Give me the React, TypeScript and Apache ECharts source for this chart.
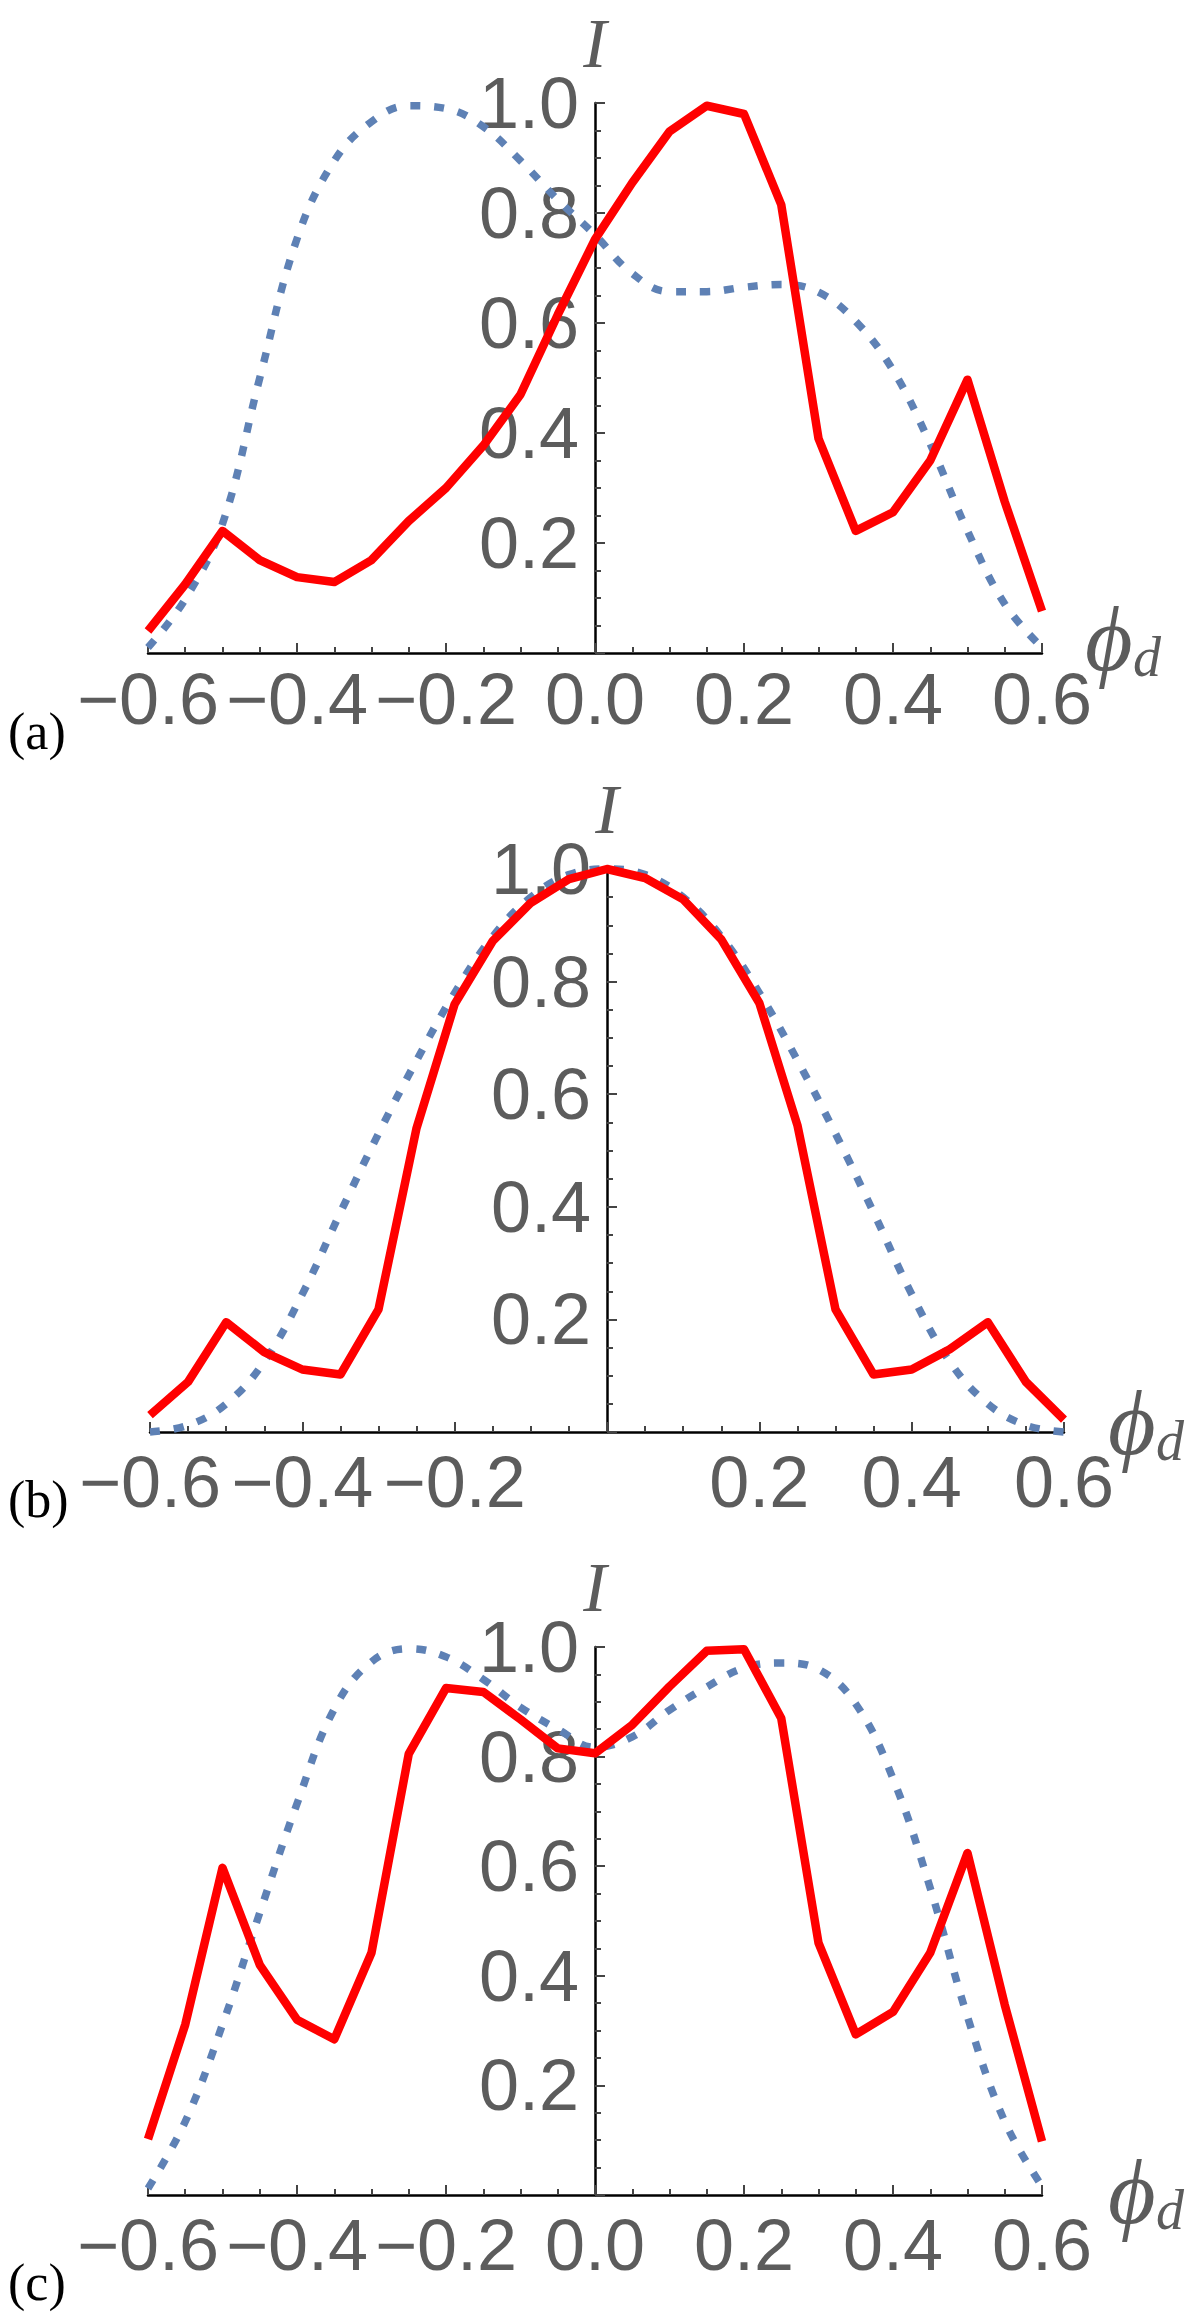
import React, { useEffect, useRef } from "react";
import * as echarts from "echarts";

// phase positions (x values) shared by all panels
const phi = [
  -0.6, -0.55, -0.5, -0.45, -0.4, -0.35, -0.3, -0.25, -0.2, -0.15, -0.1, -0.05, 0,
  0.05, 0.1, 0.15, 0.2, 0.25, 0.3, 0.35, 0.4, 0.45, 0.5, 0.55, 0.6,
];

// panel (a)
const redA = [
  0.04, 0.125, 0.222, 0.169, 0.138, 0.129, 0.169, 0.24, 0.3, 0.377, 0.47, 0.615, 0.752,
  0.855, 0.948, 0.995, 0.98, 0.815, 0.39, 0.222, 0.256, 0.35, 0.497, 0.275, 0.076,
];
const blueA = [
  0.01, 0.098, 0.235, 0.5, 0.753, 0.895, 0.966, 0.995, 0.99, 0.957, 0.895, 0.824, 0.76,
  0.69, 0.657, 0.657, 0.665, 0.67, 0.656, 0.603, 0.514, 0.38, 0.222, 0.089, 0.01,
];

// panel (b)
const redB = [
  0.03, 0.089, 0.195, 0.142, 0.111, 0.102, 0.218, 0.54, 0.76, 0.872, 0.94, 0.982, 1.0,
  0.984, 0.946, 0.875, 0.762, 0.545, 0.218, 0.102, 0.111, 0.147, 0.195, 0.089, 0.022,
];
const blueB = [
  0.0, 0.012, 0.05, 0.125, 0.245, 0.39, 0.53, 0.66, 0.78, 0.88, 0.95, 0.99, 1.0,
  0.99, 0.95, 0.88, 0.78, 0.66, 0.53, 0.39, 0.245, 0.125, 0.05, 0.012, 0.0,
];

// panel (c)
const redC = [
  0.102, 0.311, 0.597, 0.42, 0.32, 0.284, 0.442, 0.805, 0.925, 0.918, 0.868, 0.815, 0.806,
  0.858, 0.928, 0.993, 0.996, 0.87, 0.46, 0.293, 0.334, 0.442, 0.624, 0.347, 0.098,
];
const blueC = [
  0.012, 0.134, 0.311, 0.515, 0.714, 0.887, 0.973, 0.997, 0.982, 0.941, 0.89, 0.85, 0.817,
  0.836, 0.885, 0.927, 0.962, 0.971, 0.959, 0.896, 0.76, 0.56, 0.325, 0.134, 0.016,
];

const panelLabels = ["(a)", "(b)", "(c)"];
const yAxisTitle = "I";
const xMin = -0.6;
const xMax = 0.6;
const xTickStep = 0.2;
const yTickStep = 0.2;

const LABEL_GRAY = "#5c5c5c";
const RED = "#ff0000";
const BLUE = "#5e81b5";

const pairs = (ys: number[]) => phi.map((x, i) => [x, ys[i]]);

const fmtX = (skipZero: boolean) => (v: number) => {
  if (Math.abs(v) < 1e-9) return skipZero ? "" : "0.0";
  return v < 0 ? "\u2212" + Math.abs(v).toFixed(1) : v.toFixed(1);
};
const fmtY = (v: number) => (Math.abs(v) < 1e-9 ? "" : v.toFixed(1));

export default function App() {
  const ref = useRef<HTMLDivElement>(null);

  useEffect(() => {
    if (!ref.current) return;
    const chart = echarts.init(ref.current, null, { renderer: "svg" });

    const grids = [
      { left: 148, top: 103, width: 894, height: 550 },
      { left: 150, top: 869, width: 914, height: 563 },
      { left: 148, top: 1647, width: 894, height: 548 },
    ];
    const xMargins = [10, 14, 14];
    const labelTops = [705, 1473, 2256];
    // position of the phi_d title relative to the right end of each x axis
    const phiDx = [43, 44, 66];
    const phiDy = [-14, -9, -3];

    const tickLine = { color: "#444", width: 2 };

    const xAxes = grids.map((_, i) => ({
      type: "value",
      gridIndex: i,
      min: xMin,
      max: xMax,
      interval: xTickStep,
      axisLine: { show: true, onZero: true, lineStyle: { color: "#000", width: 2.5 } },
      axisTick: { show: true, inside: true, length: 10, lineStyle: tickLine },
      minorTick: { show: true, splitNumber: 4, length: 6, lineStyle: tickLine },
      splitLine: { show: false },
      minorSplitLine: { show: false },
      axisLabel: {
        formatter: fmtX(i === 1),
        fontSize: 72,
        fontFamily: "Liberation Sans",
        color: LABEL_GRAY,
        margin: xMargins[i],
      },
    }));

    // y axis drawn at x = 0: shift it from the grid's left edge to the zero of the x scale
    const yAxes = grids.map((g, i) => ({
      type: "value",
      gridIndex: i,
      min: 0,
      max: 1,
      interval: yTickStep,
      position: "left",
      offset: -g.width * ((0 - xMin) / (xMax - xMin)),
      axisLine: { show: true, onZero: false, lineStyle: { color: "#000", width: 2.5 } },
      axisTick: { show: true, inside: true, length: 10, lineStyle: tickLine },
      minorTick: { show: true, splitNumber: 4, length: 6, lineStyle: tickLine },
      splitLine: { show: false },
      minorSplitLine: { show: false },
      axisLabel: {
        formatter: fmtY,
        fontSize: 72,
        fontFamily: "Liberation Sans",
        color: LABEL_GRAY,
        margin: 16,
        padding: [0, 0, 10, 0],
      },
      name: yAxisTitle,
      nameLocation: "end",
      nameGap: 28,
      nameMoveOverlap: false,
      nameTextStyle: {
        fontFamily: "Liberation Serif",
        fontStyle: "italic",
        fontSize: 70,
        lineHeight: 64,
        color: LABEL_GRAY,
      },
    }));

    const blues = [blueA, blueB, blueC];
    const reds = [redA, redB, redC];
    const series: any[] = [];
    grids.forEach((_, i) => {
      series.push({
        type: "line",
        name: "blue" + i,
        xAxisIndex: i,
        yAxisIndex: i,
        data: pairs(blues[i]),
        showSymbol: false,
        smooth: 0.4,
        clip: false,
        z: 3,
        lineStyle: { color: BLUE, width: 7.5, type: [10, 14], cap: "butt" },
      });
      series.push({
        type: "line",
        name: "red" + i,
        xAxisIndex: i,
        yAxisIndex: i,
        data: pairs(reds[i]),
        showSymbol: false,
        smooth: false,
        clip: false,
        z: 4,
        lineStyle: { color: RED, width: 8.5, join: "round", cap: "butt" },
      });
    });

    const graphics: any[] = [];
    panelLabels.forEach((t, i) => {
      const g = grids[i];
      const ax = g.left + g.width;
      const ay = g.top + g.height;
      graphics.push({
        type: "text",
        x: 8,
        y: labelTops[i],
        style: {
          text: t,
          fontSize: 52,
          fontFamily: "Liberation Serif",
          fill: "#000",
          align: "left",
          verticalAlign: "top",
        },
      });
      graphics.push({
        type: "group",
        x: ax + phiDx[i],
        y: ay + phiDy[i],
        children: [
          {
            type: "text",
            x: 0,
            y: 0,
            style: {
              text: "\u03d5",
              fontSize: 92,
              fontFamily: "Liberation Serif",
              fontStyle: "italic",
              fill: LABEL_GRAY,
              align: "left",
              verticalAlign: "middle",
            },
          },
          {
            type: "text",
            x: 48,
            y: 18,
            style: {
              text: "d",
              fontSize: 56,
              fontFamily: "Liberation Serif",
              fontStyle: "italic",
              fill: LABEL_GRAY,
              align: "left",
              verticalAlign: "middle",
            },
          },
        ],
      });
    });

    chart.setOption({
      animation: false,
      backgroundColor: "#ffffff",
      grid: grids.map((g) => ({ ...g, containLabel: false, outerBoundsMode: "none" })),
      xAxis: xAxes,
      yAxis: yAxes,
      series,
      graphic: graphics,
    });

    return () => chart.dispose();
  }, []);

  return (
    <div
      ref={ref}
      style={{ position: "absolute", left: 0, top: 0, width: 1200, height: 2318, background: "#fff" }}
    />
  );
}
